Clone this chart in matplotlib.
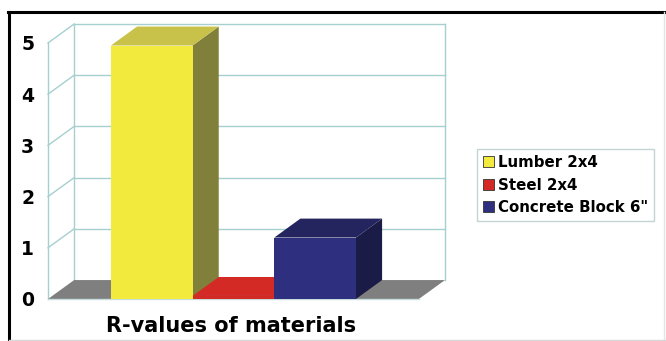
import matplotlib.pyplot as plt
from matplotlib.patches import Polygon, Rectangle, Patch
from matplotlib.lines import Line2D

# data
materials = ["Lumber 2x4", "Steel 2x4", "Concrete Block 6\""]
r_values = [4.95, 0.06, 1.2]
front_colors = ["#f2ea3c", "#d42a26", "#2e2f7e"]
top_colors = ["#c9c24a", "#d42a26", "#24255e"]
side_colors = ["#80803a", "#9a1e1c", "#1b1b48"]
yticks = [0, 1, 2, 3, 4, 5]
title = "R-values of materials"

# fake 3d geometry (in data units)
bar_w = 1.0
gap = 0.77
floor_w = 2 * gap + len(r_values) * bar_w
dx, dy = 0.32, 0.37
ymax = 5
grid_c = "#a6cfcf"

fig = plt.figure(figsize=(6.66, 3.41), dpi=100)
W, H = 666, 341
ax = fig.add_axes([48 / W, 42 / H, 397 / W, 275 / H])
ax.set_xlim(0, floor_w + dx)
ax.set_ylim(0, ymax + dy)
for s in ax.spines.values():
    s.set_visible(False)
ax.set_xticks([])
ax.set_yticks(yticks)
ax.set_yticklabels([str(t) for t in yticks], fontsize=13.5, fontweight="bold")
ax.tick_params(axis="y", length=0, pad=10)

# walls and grid
gl = dict(color=grid_c, lw=1, clip_on=False)
ax.plot([0, 0], [0, ymax], **gl)
ax.plot([dx, dx], [dy, ymax + dy], **gl)
ax.plot([floor_w + dx, floor_w + dx], [dy, ymax + dy], **gl)
for t in yticks[1:]:
    ax.plot([0, dx], [t, t + dy], **gl)
    ax.plot([dx, floor_w + dx], [t + dy, t + dy], **gl)

# floor
ax.add_patch(Polygon([(0, 0), (floor_w, 0), (floor_w + dx, dy), (dx, dy)],
                     closed=True, fc="#7f7f7f", ec="none", zorder=2))
ax.plot([0, floor_w], [0, 0], color="#c8dede", lw=1, zorder=2, clip_on=False)

# bars
for i, v in enumerate(r_values):
    x0 = gap + i * bar_w
    x1 = x0 + bar_w
    z = 3 + i
    ax.add_patch(Polygon([(x1, 0), (x1 + dx, dy), (x1 + dx, v + dy), (x1, v)],
                         closed=True, fc=side_colors[i], ec="none", zorder=z))
    ax.add_patch(Polygon([(x0, v), (x1, v), (x1 + dx, v + dy), (x0 + dx, v + dy)],
                         closed=True, fc=top_colors[i], ec="none", zorder=z))
    ax.add_patch(Rectangle((x0, 0), bar_w, v, fc=front_colors[i], ec="none", zorder=z))

# legend
handles = [Patch(fc=c, ec="#333333", lw=0.6) for c in front_colors]
leg = fig.legend(handles, materials, loc="upper left",
                 bbox_to_anchor=(477 / W, 1 - 149 / H),
                 prop={"weight": "bold", "size": 10.8},
                 handlelength=0.75, handleheight=0.75, handletextpad=0.25,
                 labelspacing=0.5, borderpad=0.4, fancybox=False,
                 borderaxespad=0)
leg.get_frame().set_edgecolor("#b8c8c8")
leg.get_frame().set_linewidth(1)

fig.text(231 / W, 1 - 326 / H, title, ha="center", va="center",
         fontsize=15, fontweight="bold")

# outer frame
fig.add_artist(Line2D([8 / W, 1], [1 - 12 / H, 1 - 12 / H], color="black", lw=2.2))
fig.add_artist(Line2D([9 / W, 9 / W], [0, 1 - 12 / H], color="black", lw=2.2))
fig.add_artist(Line2D([664 / W, 664 / W], [0, 1 - 12 / H], color="#e4e4e4", lw=1))
fig.add_artist(Line2D([9 / W, 1], [1 / H, 1 / H], color="#d8d8d8", lw=1))

fig.savefig("out.png", dpi=100)
